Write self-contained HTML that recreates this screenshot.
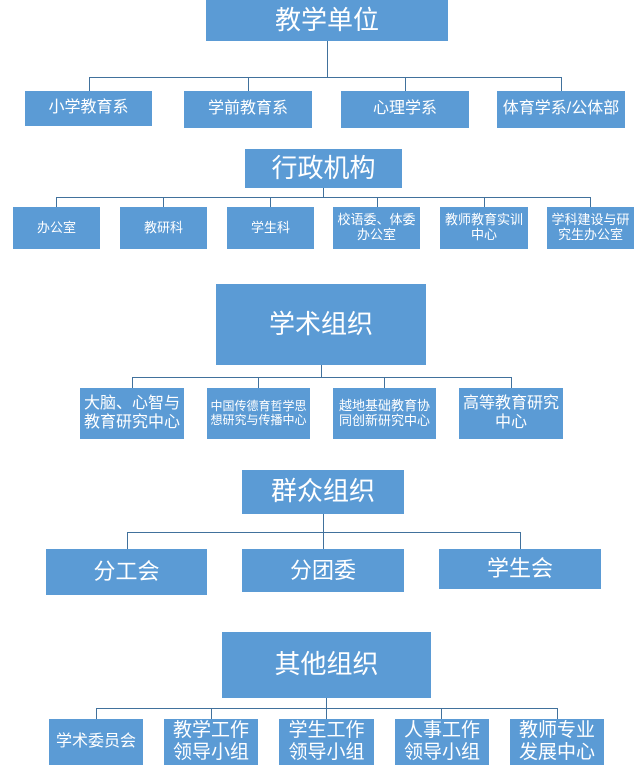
<!DOCTYPE html>
<html><head><meta charset="utf-8"><style>
body{margin:0;width:642px;height:777px;background:#fff;position:relative;overflow:hidden;font-family:"Liberation Sans","Noto Sans CJK SC",sans-serif;}
.b{position:absolute;background:#5b9bd5;color:#fff;display:flex;align-items:center;justify-content:center;text-align:center;line-height:1.15;box-sizing:border-box;white-space:nowrap;}
.l{position:absolute;background:#41719c;}
.h{height:1px}.v{width:1px}
</style></head><body>
<div class="b" style="left:206px;top:0;width:242px;height:41px;font-size:26px">教学单位</div>
<div class="l v" style="left:327px;top:41px;height:36px"></div>
<div class="l h" style="left:89px;top:77px;width:473px"></div>
<div class="l v" style="left:89px;top:77px;height:14px"></div>
<div class="l v" style="left:248px;top:77px;height:14px"></div>
<div class="l v" style="left:405px;top:77px;height:14px"></div>
<div class="l v" style="left:561px;top:77px;height:14px"></div>
<div class="b" style="left:25px;top:91px;width:127px;height:35px;font-size:16px">小学教育系</div>
<div class="b" style="left:184px;top:91px;width:128px;height:37px;font-size:16px">学前教育系</div>
<div class="b" style="left:341px;top:91px;width:128px;height:37px;font-size:16px">心理学系</div>
<div class="b" style="left:497px;top:91px;width:128px;height:37px;font-size:16px">体育学系/公体部</div>
<div class="b" style="left:245px;top:149px;width:157px;height:39px;font-size:26px">行政机构</div>
<div class="l v" style="left:323px;top:188px;height:9px"></div>
<div class="l h" style="left:56px;top:197px;width:535px"></div>
<div class="l v" style="left:56px;top:197px;height:10px"></div>
<div class="l v" style="left:163px;top:197px;height:10px"></div>
<div class="l v" style="left:270px;top:197px;height:10px"></div>
<div class="l v" style="left:377px;top:197px;height:10px"></div>
<div class="l v" style="left:484px;top:197px;height:10px"></div>
<div class="l v" style="left:590px;top:197px;height:10px"></div>
<div class="b" style="left:13px;top:207px;width:87px;height:42px;font-size:13px">办公室</div>
<div class="b" style="left:120px;top:207px;width:87px;height:42px;font-size:13px">教研科</div>
<div class="b" style="left:227px;top:207px;width:87px;height:42px;font-size:13px">学生科</div>
<div class="b" style="left:333px;top:207px;width:87px;height:42px;font-size:13px">校语委、体委<br>办公室</div>
<div class="b" style="left:440px;top:207px;width:88px;height:42px;font-size:13px">教师教育实训<br>中心</div>
<div class="b" style="left:547px;top:207px;width:87px;height:42px;font-size:13px">学科建设与研<br>究生办公室</div>
<div class="b" style="left:216px;top:284px;width:210px;height:81px;font-size:26px">学术组织</div>
<div class="l v" style="left:321px;top:365px;height:12px"></div>
<div class="l h" style="left:132px;top:377px;width:380px"></div>
<div class="l v" style="left:132px;top:377px;height:11px"></div>
<div class="l v" style="left:258px;top:377px;height:11px"></div>
<div class="l v" style="left:384px;top:377px;height:11px"></div>
<div class="l v" style="left:511px;top:377px;height:11px"></div>
<div class="b" style="left:80px;top:388px;width:104px;height:51px;font-size:16px">大脑、心智与<br>教育研究中心</div>
<div class="b" style="left:207px;top:388px;width:103px;height:51px;font-size:12px">中国传德育哲学思<br>想研究与传播中心</div>
<div class="b" style="left:333px;top:388px;width:103px;height:51px;font-size:13px">越地基础教育协<br>同创新研究中心</div>
<div class="b" style="left:459px;top:388px;width:104px;height:51px;font-size:16px">高等教育研究<br>中心</div>
<div class="b" style="left:242px;top:470px;width:162px;height:44px;font-size:26px">群众组织</div>
<div class="l v" style="left:323px;top:514px;height:35px"></div>
<div class="l h" style="left:127px;top:532px;width:394px"></div>
<div class="l v" style="left:127px;top:532px;height:17px"></div>
<div class="l v" style="left:520px;top:532px;height:17px"></div>
<div class="b" style="left:46px;top:549px;width:161px;height:46px;font-size:22px">分工会</div>
<div class="b" style="left:242px;top:549px;width:162px;height:43px;font-size:22px">分团委</div>
<div class="b" style="left:439px;top:549px;width:162px;height:40px;font-size:22px">学生会</div>
<div class="b" style="left:222px;top:632px;width:209px;height:66px;font-size:26px">其他组织</div>
<div class="l v" style="left:326px;top:698px;height:21px"></div>
<div class="l h" style="left:96px;top:708px;width:462px"></div>
<div class="l v" style="left:96px;top:708px;height:11px"></div>
<div class="l v" style="left:211px;top:708px;height:11px"></div>
<div class="l v" style="left:441px;top:708px;height:11px"></div>
<div class="l v" style="left:557px;top:708px;height:11px"></div>
<div class="b" style="left:49px;top:719px;width:94px;height:46px;font-size:16px">学术委员会</div>
<div class="b" style="left:164px;top:719px;width:94px;height:46px;font-size:19px">教学工作<br>领导小组</div>
<div class="b" style="left:279px;top:719px;width:95px;height:46px;font-size:19px">学生工作<br>领导小组</div>
<div class="b" style="left:395px;top:719px;width:94px;height:46px;font-size:19px">人事工作<br>领导小组</div>
<div class="b" style="left:510px;top:719px;width:94px;height:46px;font-size:19px">教师专业<br>发展中心</div>
</body></html>
